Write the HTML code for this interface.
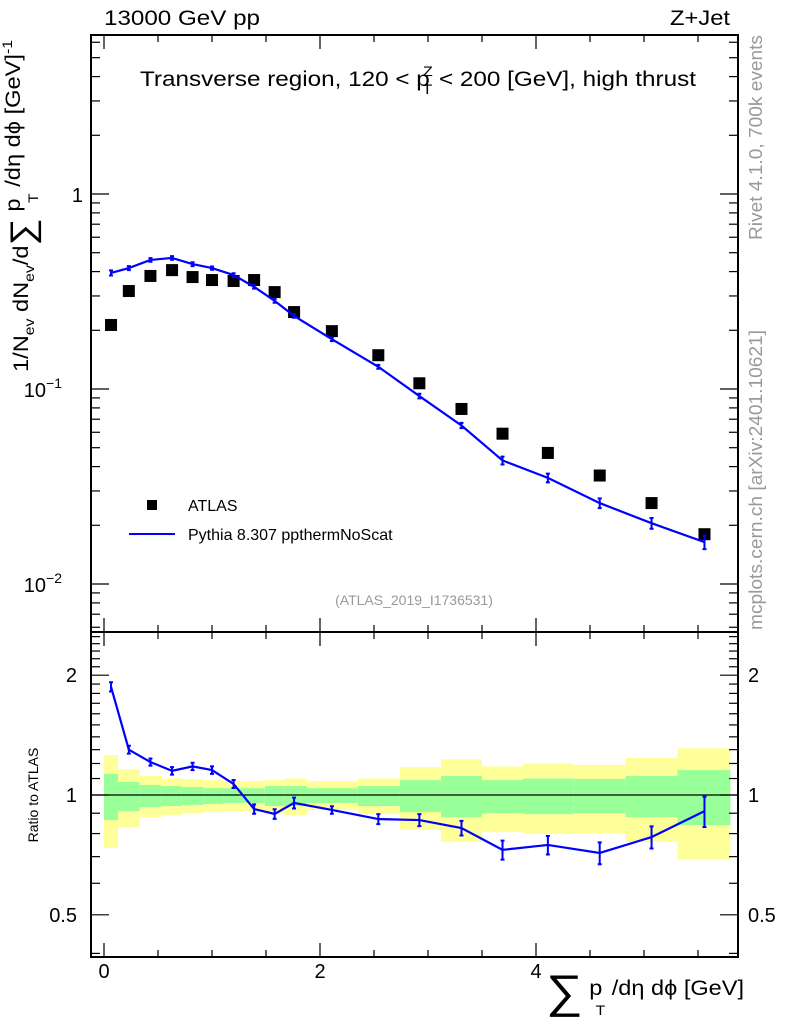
<!DOCTYPE html>
<html><head><meta charset="utf-8"><style>
html,body{margin:0;padding:0;background:#fff;}
svg{display:block;font-family:"Liberation Sans",sans-serif;}
</style></head><body>
<svg id="c" width="786" height="1024" viewBox="0 0 786 1024" xmlns="http://www.w3.org/2000/svg">
<g id="bands"></g>
<g id="axes"></g>
<g id="marks"></g>
<text x="104" y="25" font-size="21" textLength="156" lengthAdjust="spacingAndGlyphs">13000 GeV pp</text>
<text x="670" y="25" font-size="21" textLength="60" lengthAdjust="spacingAndGlyphs">Z+Jet</text>
<text x="140" y="86" font-size="21" textLength="556" lengthAdjust="spacingAndGlyphs">Transverse region, 120 &lt; p<tspan font-size="14" dy="-10" dx="-6">Z</tspan><tspan font-size="14" dy="18" dx="-9">T</tspan><tspan dy="-8"> &lt; 200 [GeV], high thrust</tspan></text>
<text x="414" y="605" font-size="14" fill="#999" text-anchor="middle">(ATLAS_2019_I1736531)</text>
<rect x="147" y="500" width="10" height="10" fill="#000"/>
<text x="188" y="511" font-size="16">ATLAS</text>
<line x1="129" y1="534" x2="175" y2="534" stroke="#00f" stroke-width="2"/>
<text x="188" y="540" font-size="16">Pythia 8.307 ppthermNoScat</text>
<text transform="translate(762,240) rotate(-90)" font-size="18" fill="#999" textLength="205" lengthAdjust="spacingAndGlyphs">Rivet 4.1.0,  700k events</text>
<text transform="translate(762,630) rotate(-90)" font-size="18" fill="#999" textLength="300" lengthAdjust="spacingAndGlyphs">mcplots.cern.ch [arXiv:2401.10621]</text>
<text transform="translate(28,372) rotate(-90)" font-size="21" textLength="332" lengthAdjust="spacingAndGlyphs">1/N<tspan font-size="14" dy="6">ev</tspan><tspan dy="-6"> dN</tspan><tspan font-size="14" dy="6">ev</tspan><tspan dy="-6">/d</tspan><tspan font-size="34" dy="6">∑</tspan><tspan dy="-14"> p</tspan><tspan font-size="14" dy="18" dx="-4">T</tspan><tspan dy="-18"> /dη dϕ  [GeV]</tspan><tspan font-size="14" dy="-8">-1</tspan></text>
<text transform="translate(38,795) rotate(-90)" font-size="14" text-anchor="middle">Ratio to ATLAS</text>
<text x="546" y="1003" font-size="21" textLength="198" lengthAdjust="spacingAndGlyphs"><tspan font-size="46" dy="4">∑</tspan><tspan dy="-12"> p</tspan><tspan font-size="14" dy="20" dx="-6">T</tspan><tspan dy="-20"> /dη dϕ [GeV]</tspan></text>
</svg>
<script>
const xCenters=[0.065,0.23,0.43,0.63,0.82,1.0,1.2,1.39,1.58,1.76,2.11,2.54,2.92,3.31,3.69,4.11,4.59,5.07,5.56];
const binEdges=[0,0.13,0.33,0.53,0.72,0.92,1.11,1.29,1.49,1.67,1.88,2.35,2.74,3.12,3.5,3.88,4.35,4.83,5.31,5.8];
const atlasVals=[0.213,0.318,0.38,0.407,0.375,0.362,0.358,0.362,0.314,0.248,0.198,0.149,0.107,0.079,0.059,0.047,0.036,0.026,0.018];
const mcVals=[0.394,0.417,0.459,0.47,0.437,0.417,0.384,0.334,0.283,0.237,0.18,0.13,0.092,0.065,0.043,0.035,0.026,0.0205,0.0164];
const mcErr=[0.012,0.01,0.01,0.01,0.01,0.008,0.008,0.007,0.006,0.005,0.004,0.003,0.0025,0.002,0.002,0.0018,0.0015,0.0013,0.0013];
const ratioVals=[1.87,1.30,1.21,1.15,1.18,1.155,1.066,0.922,0.896,0.955,0.917,0.87,0.865,0.826,0.728,0.749,0.715,0.784,0.911];
const ratioErr=[0.05,0.03,0.025,0.025,0.025,0.025,0.025,0.025,0.025,0.03,0.02,0.025,0.03,0.035,0.04,0.04,0.045,0.05,0.08];
const yelHi=[1.26,1.16,1.116,1.10,1.097,1.09,1.084,1.084,1.09,1.10,1.084,1.10,1.176,1.23,1.18,1.20,1.19,1.24,1.31];
const yelLo=[0.736,0.831,0.88,0.89,0.90,0.906,0.911,0.911,0.90,0.89,0.917,0.895,0.817,0.762,0.807,0.798,0.80,0.762,0.69];
const grnHi=[1.13,1.078,1.06,1.053,1.047,1.04,1.04,1.04,1.053,1.053,1.04,1.053,1.09,1.116,1.09,1.10,1.097,1.116,1.155];
const grnLo=[0.865,0.911,0.933,0.938,0.944,0.949,0.955,0.955,0.938,0.938,0.955,0.938,0.906,0.88,0.90,0.895,0.90,0.88,0.84];
const xTicks=[0,2,4];

const NS="http://www.w3.org/2000/svg";
const L=91,R=738,T=35,M=632,B=957;
const X=v=>104+v*108;
const Y=v=>194-195*Math.log10(v);
const RY=v=>795-398*Math.log10(v);
function mk(parent,tag,attrs){const e=document.createElementNS(NS,tag);for(const k in attrs)e.setAttribute(k,attrs[k]);document.getElementById(parent).appendChild(e);return e;}

for(let i=0;i<xCenters.length;i++){
  const x0=X(binEdges[i]),x1=X(binEdges[i+1]);
  const y=mk('bands','rect',{x:x0,y:RY(yelHi[i]),width:x1-x0,height:RY(yelLo[i])-RY(yelHi[i]),fill:'#ffff99'});
  
  
  const g=mk('bands','rect',{x:x0,y:RY(grnHi[i]),width:x1-x0,height:RY(grnLo[i])-RY(grnHi[i]),fill:'#99ff99'});
  
  
}
let f=mk('axes','rect',{x:L,y:T,width:R-L,height:M-T,fill:'none',stroke:'#000','stroke-width':2});


f=mk('axes','rect',{x:L,y:M,width:R-L,height:B-M,fill:'none',stroke:'#000','stroke-width':2});


let ln=mk('axes','line',{x1:L,x2:R,y1:RY(1),y2:RY(1),stroke:'#000','stroke-width':1.2});


for(let v=0;v<=5.75;v+=0.5){
  const major=Math.abs(v%2)<1e-6, len=major?14:7, x=X(v);
  for(const [y0,d] of [[T,1],[M,-1],[M,1],[B,-1]]){
    const t=mk('axes','line',{x1:x,x2:x,y1:y0,y2:y0+d*len,stroke:'#000','stroke-width':1.2});
    
    
  }
}
xTicks.forEach(v=>{const t=mk('axes','text',{x:X(v),y:978,'font-size':20,'text-anchor':'middle'});t.textContent=v;
  
  });
for(let d=-3;d<=0;d++)for(let m=1;m<=9;m++){
  const v=m*Math.pow(10,d), y=Y(v); if(y<T||y>M)continue;
  const len=m===1?18:9;
  for(const [x0,dd] of [[L,1],[R,-1]]){
    const t=mk('axes','line',{x1:x0,x2:x0+dd*len,y1:y,y2:y,stroke:'#000','stroke-width':1.2});
    
    
  }
}
[["1",1],["10",0.1,"−1"],["10",0.01,"−2"]].forEach(a=>{
  const t=mk('axes','text',{x:a[2]?66:83,y:Y(a[1])+8,'font-size':20,'text-anchor':'end'});
  t.textContent=a[0];
  if(a[2]){const s=document.createElementNS(NS,'tspan');s.setAttribute('font-size',14);s.setAttribute('dy',-9);s.textContent=a[2];t.appendChild(s);t.setAttribute('x',62);}
  
  
});
const rt=[0.4,0.5,0.6,0.7,0.8,0.9,1,1.1,1.2,1.3,1.4,1.5,1.6,1.7,1.8,1.9,2,2.1,2.2,2.3,2.4,2.5];
rt.forEach(v=>{const y=RY(v);const major=(v===0.5||v===1||v===2);const len=major?18:9;
  for(const [x0,dd] of [[L,1],[R,-1]]){
    const t=mk('axes','line',{x1:x0,x2:x0+dd*len,y1:y,y2:y,stroke:'#000','stroke-width':1.2});
    
    
  }});
[["2",2],["1",1],["0.5",0.5]].forEach(a=>{
  const t=mk('axes','text',{x:77,y:RY(a[1])+7,'font-size':20,'text-anchor':'end'});t.textContent=a[0];
  
  
  const t2=mk('axes','text',{x:748,y:RY(a[1])+7,'font-size':20});t2.textContent=a[0];
  
  
});
atlasVals.forEach((v,i)=>{const r=mk('marks','rect',{x:X(xCenters[i])-6,y:Y(v)-6,width:12,height:12,fill:'#000'});
  
  });
let p=mk('marks','polyline',{points:mcVals.map((v,i)=>X(xCenters[i])+','+Y(v)).join(' '),fill:'none',stroke:'#00f','stroke-width':2.2});


mcVals.forEach((v,i)=>{const x=X(xCenters[i]);const e=mk('marks','path',{d:`M${x},${Y(v+mcErr[i])}V${Y(v-mcErr[i])}M${x-2},${Y(v+mcErr[i])}h4M${x-2},${Y(v-mcErr[i])}h4`,stroke:'#00f','stroke-width':2,fill:'none'});
  
  });
p=mk('marks','polyline',{points:ratioVals.map((v,i)=>X(xCenters[i])+','+RY(v)).join(' '),fill:'none',stroke:'#00f','stroke-width':2.2});


ratioVals.forEach((v,i)=>{const x=X(xCenters[i]);const a=RY(v+ratioErr[i]),b=RY(v-ratioErr[i]);const e=mk('marks','path',{d:`M${x},${a}V${b}M${x-2},${a}h4M${x-2},${b}h4`,stroke:'#00f','stroke-width':2,fill:'none'});
  
  });
</script>
</body></html>
